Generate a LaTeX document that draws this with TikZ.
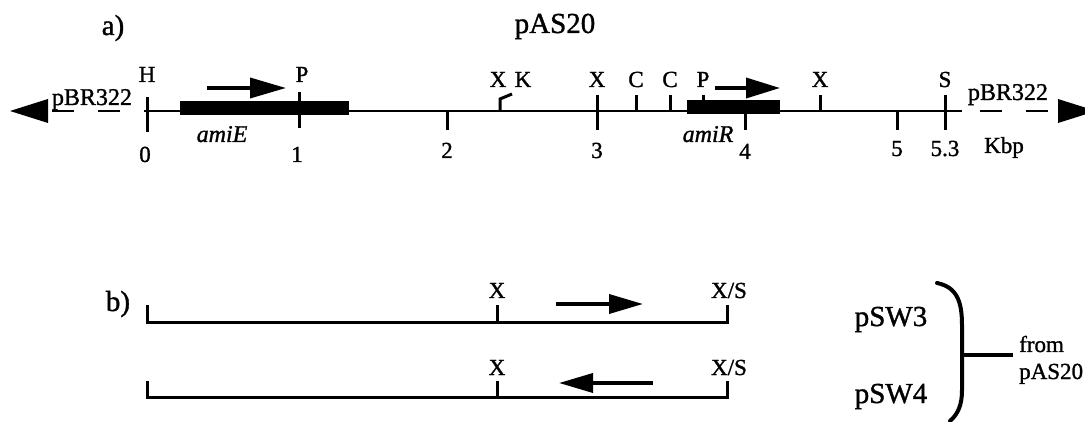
\documentclass[tikz,border=0pt]{standalone}
\usepackage{fontspec}
\setmainfont{Liberation Serif}[FakeBold=1.2]
\usetikzlibrary{arrows.meta}
\begin{document}
\begin{tikzpicture}[x=1pt,y=-1pt,
  lbl/.style={font=\fontsize{23}{23}\selectfont, anchor=base, inner sep=0pt},
  gname/.style={font=\fontsize{24}{24}\selectfont\itshape, anchor=base, inner sep=0pt},
  vec/.style={font=\fontsize{24}{24}\selectfont, anchor=base, inner sep=0pt},
  big/.style={font=\fontsize{29}{29}\selectfont, anchor=base, inner sep=0pt},
  axis/.style={line width=2.6pt},
  tickline/.style={line width=3pt},
  gene/.style={fill=black},
  dashline/.style={line width=2.6pt, dash pattern=on 22pt off 24pt},
  dirarrow/.style={line width=3.6pt, -{Triangle[length=36pt,width=20pt]}},
  bline/.style={line width=3pt},
  brace/.style={line width=4pt, line cap=round}]
\useasboundingbox (0,0) rectangle (1085,422);

% ---------- a) ----------
\node[big] (lab-a) at (113,35) {a)};
\node[big] (title) at (555,33) {pAS20};

% vector ends
\coordinate (L0) at (147,111);
\coordinate (L1) at (962,111);
\draw[axis] (L0) -- (L1);
\fill (48,99) -- (48,123) -- (10,111) -- cycle;
\fill (1058,99) -- (1058,123) -- (1096,111) -- cycle;
\draw[dashline] (52,111) -- (146,111);
\draw[dashline] (980,111) -- (1056,111);
\node[vec] (pbrL) at (92,105) {pBR322};
\node[vec] (pbrR) at (1008,100) {pBR322};

% genes
\fill[gene] (180,101) rectangle (349,115);
\fill[gene] (687,100) rectangle (780,114);
\node[gname] (amiE) at (222,142) {amiE};
\node[gname] (amiR) at (708,142) {amiR};

% direction arrows
\coordinate (aE0) at (207,88);
\coordinate (aE1) at (286,88);
\draw[dirarrow] (aE0) -- (aE1);
\coordinate (aR0) at (715,88);
\coordinate (aR1) at (780,88);
\draw[dirarrow,-{Triangle[length=34pt,width=20pt]}] (aR0) -- (aR1);

% ticks
\draw[tickline] (147,97) -- (147,132);   % H / 0
\draw[tickline] (299,92) -- (299,128);   % P / 1
\draw[tickline] (447,111) -- (447,130);  % 2
\draw[tickline] (500,111) -- (500,99) -- (512,94); % XK
\draw[tickline] (597,95) -- (597,130);   % X / 3
\draw[tickline] (636,95) -- (636,111);   % C
\draw[tickline] (670,95) -- (670,111);   % C
\draw[tickline] (703,95) -- (703,101);   % P
\draw[tickline] (745,114) -- (745,130);  % 4
\draw[tickline] (820,95) -- (820,111);   % X
\draw[tickline] (897,111) -- (897,130);  % 5
\draw[tickline] (945,95) -- (945,130);   % S / 5.3

% site labels
\node[lbl] (sH) at (147,82) {H};
\node[lbl] (sP1) at (302,82) {P};
\node[lbl] (sX1) at (498,87) {X};
\node[lbl] (sK) at (523,87) {K};
\node[lbl] (sX2) at (597,87) {X};
\node[lbl] (sC1) at (636,87) {C};
\node[lbl] (sC2) at (670,87) {C};
\node[lbl] (sP2) at (703,87) {P};
\node[lbl] (sX3) at (820,87) {X};
\node[lbl] (sS) at (945,87) {S};

% scale labels
\node[lbl] (n0) at (145,162) {0};
\node[lbl] (n1) at (297,162) {1};
\node[lbl] (n2) at (447,158) {2};
\node[lbl] (n3) at (597,158) {3};
\node[lbl] (n4) at (745,159) {4};
\node[lbl] (n5) at (897,156) {5};
\node[lbl] (n53) at (945,156) {5.3};
\node[lbl] (kbp) at (1004,153) {Kbp};

% ---------- b) ----------
\node[big] (lab-b) at (118,311) {b)};

\coordinate (b1L) at (147,322);
\coordinate (b1R) at (727,322);
\coordinate (b1X) at (497,322);
\draw[bline] (147,305) -- (b1L) -- (b1R) -- (727,305);
\draw[bline] (b1X) -- (497,305);
\node[lbl] (b1x) at (497,298) {X};
\node[lbl] (b1xs) at (729,298) {X/S};
\coordinate (ba0) at (556,304);
\coordinate (ba1) at (643,304);
\draw[dirarrow,-{Triangle[length=34pt,width=19pt]}] (ba0) -- (ba1);

\coordinate (b2L) at (147,397);
\coordinate (b2R) at (727,397);
\coordinate (b2X) at (497,397);
\draw[bline] (147,381) -- (b2L) -- (b2R) -- (727,381);
\draw[bline] (b2X) -- (497,381);
\node[lbl] (b2x) at (497,375) {X};
\node[lbl] (b2xs) at (729,375) {X/S};
\coordinate (bb0) at (653,383);
\coordinate (bb1) at (559,383);
\draw[dirarrow,-{Triangle[length=34pt,width=19pt]}] (bb0) -- (bb1);

\node[big] (psw3) at (891,326) {pSW3};
\node[big] (psw4) at (891,403) {pSW4};

\coordinate (brT) at (937,283);
\coordinate (brM) at (962,355);
\coordinate (brB) at (950,421);
\draw[brace] (brT) .. controls (956,287) and (962,300) .. (962,325)
  -- (962,390) .. controls (962,405) and (958,414) .. (brB);
\coordinate (brE) at (1013,355);
\draw[line width=3.5pt] (brM) -- (brE);
\node[lbl, anchor=base west] (from) at (1019,352) {from};
\node[lbl, anchor=base west] (from2) at (1019,379) {pAS20};
\end{tikzpicture}
\end{document}
